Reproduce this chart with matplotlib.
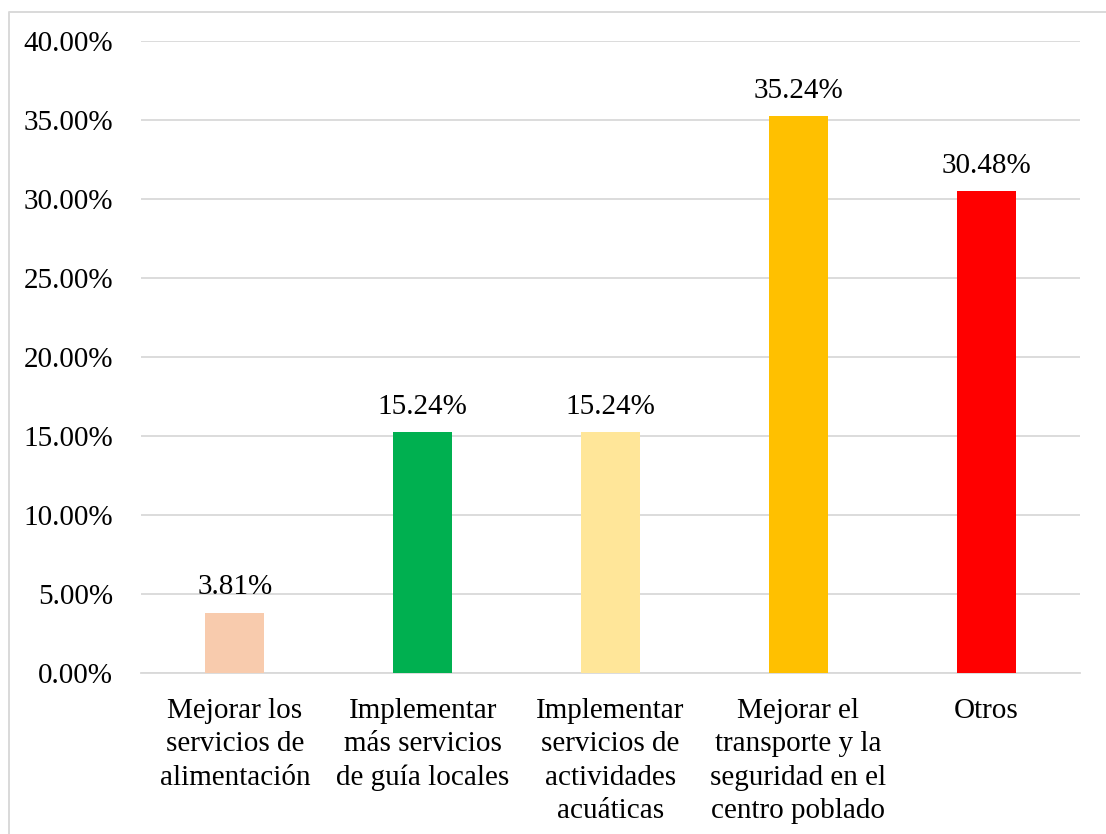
import matplotlib.pyplot as plt
from matplotlib.lines import Line2D
from matplotlib.ticker import FuncFormatter

plt.rcParams['font.family'] = ['Liberation Serif', 'DejaVu Serif']

categories = ["Mejorar los\nservicios de\nalimentación",
              "Implementar\nmás servicios\nde guía locales",
              "Implementar\nservicios de\nactividades\nacuáticas",
              "Mejorar el\ntransporte y la\nseguridad en el\ncentro poblado",
              "Otros"]
values = [3.81, 15.24, 15.24, 35.24, 30.48]
colors = ["#F8CBAD", "#00B050", "#FFE699", "#FFC000", "#FF0000"]

fig = plt.figure(figsize=(11.06, 8.34), dpi=100)
ax = fig.add_axes([141 / 1106, 1 - 673 / 834, (1080 - 141) / 1106, (673 - 41) / 834])

x = range(len(categories))
bars = ax.bar(x, values, width=0.314, color=colors, zorder=3)
for b, v in zip(bars, values):
    ax.annotate(f"{v:.2f}%", (b.get_x() + b.get_width() / 2, v),
                xytext=(0, 9), textcoords="offset points",
                ha="center", va="bottom", fontsize=21)

ax.set_xlim(-0.5, len(categories) - 0.5)
ax.set_ylim(0, 40)
ax.set_yticks(range(0, 41, 5))
ax.yaxis.set_major_formatter(FuncFormatter(lambda v, p: f"{v:.2f}%"))
ax.set_xticks(list(x))
ax.set_xticklabels(categories, fontsize=21, linespacing=1.37)
ax.tick_params(axis="y", length=0, labelsize=21, pad=20)
ax.tick_params(axis="x", length=0, pad=18)
ax.grid(axis="y", color="#d9d9d9", linewidth=1.3, zorder=0)
for s in ["top", "right", "left"]:
    ax.spines[s].set_visible(False)
ax.spines["bottom"].set_color("#d9d9d9")
ax.spines["bottom"].set_linewidth(1.3)

# light frame around the chart area (cropped at right and bottom)
fx = 8.5 / 1106
fy = 1 - 11.5 / 834
fig.add_artist(Line2D([fx, fx, 1.0], [0.0, fy, fy], transform=fig.transFigure,
                      color="#d9d9d9", linewidth=1.4))

fig.savefig("out.png", dpi=100)
